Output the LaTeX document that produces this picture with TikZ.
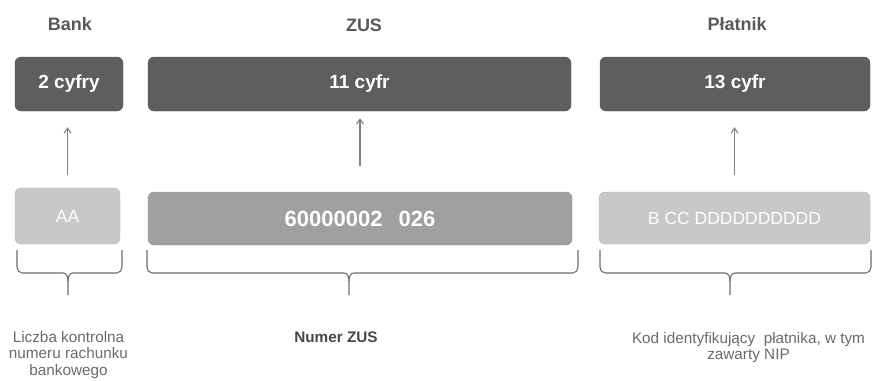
\documentclass[tikz,border=0pt]{standalone}
\usepackage{fontspec}
\setmainfont{Liberation Sans}
\usetikzlibrary{arrows.meta, positioning, calc}

\definecolor{ciemny}{RGB}{94,94,94}
\definecolor{sredni}{RGB}{160,160,160}
\definecolor{jasny}{RGB}{200,200,200}
\definecolor{szary}{RGB}{89,89,89}

% klamra: lewy x, prawy x, srodek x
\newcommand{\klamra}[3]{%
  \draw[klamra] (#1,250) -- (#1,267) to[out=-90,in=180] (#1+5,273) -- (#3-5,273)
    to[out=0,in=90] (#3,281) -- (#3,295);
  \draw[klamra] (#2,250) -- (#2,267) to[out=-90,in=0] (#2-5,273) -- (#3+5,273)
    to[out=180,in=90] (#3,281);
}

\begin{document}
\begin{tikzpicture}[x=1pt, y=-1pt,
    pole/.style={rounded corners=6pt, inner sep=0pt, text=white},
    ciemnybox/.style={pole, fill=ciemny, draw=ciemny!90!black, font=\fontsize{19}{22}\selectfont\bfseries},
    srednibox/.style={pole, fill=sredni, draw=sredni!90!black, font=\fontsize{22}{26}\selectfont\bfseries},
    jasnybox/.style={pole, fill=jasny, draw=jasny!92!black, font=\fontsize{17.5}{20}\selectfont},
    naglowek/.style={text=szary, font=\fontsize{18}{20}\selectfont\bfseries},
    opis/.style={text=szary!90, anchor=north, inner sep=0pt, align=center, font=\fontsize{15.3}{16.5}\selectfont},
    strzalka/.style={draw=black!50, line width=1.1pt, -{Straight Barb[length=5pt,width=7pt]}},
    klamra/.style={draw=black!58, line width=1.1pt}]
    \useasboundingbox (0,0) rectangle (872,380);

    % naglowki
    \node[naglowek] (hbank) at (70,24) {Bank};
    \node[naglowek] (hzus) at (364,25) {ZUS};
    \node[naglowek] (hplatnik) at (737,24) {Płatnik};

    % gorny rzad
    \node[ciemnybox, minimum width=108, minimum height=54] (bank) at (69,84) {2 cyfry};
    \node[ciemnybox, minimum width=423, minimum height=54] (zus) at (359.5,84) {11 cyfr};
    \node[ciemnybox, minimum width=270, minimum height=54] (platnik) at (735,84) {13 cyfr};

    % dolny rzad
    \node[jasnybox, minimum width=105, minimum height=56] (aa) at (67.5,216) {AA};
    \node[srednibox, minimum width=424, minimum height=53] (numer) at (360,218.5) {60000002\hspace{16pt}026};
    \node[jasnybox, minimum width=271, minimum height=52] (kod) at (734.5,218) {B CC DDDDDDDDDD};

    % strzalki
    \draw[strzalka, shorten <=13pt, shorten >=16pt] (aa.north) -- (aa.north |- bank.south);
    \draw[strzalka, shorten <=26pt, shorten >=7pt] (numer.north) -- (numer.north |- zus.south);
    \draw[strzalka, shorten <=17pt, shorten >=16pt] (kod.north) -- (kod.north |- platnik.south);

    % klamry
    \klamra{17}{122}{68}
    \klamra{147}{578}{349}
    \klamra{600}{871}{730}

    % opisy
    \node[opis] (obank) at (68.5,331) {Liczba kontrolna\\numeru rachunku\\bankowego};
    \node[opis, text=black!72, font=\fontsize{15.3}{16.5}\selectfont\bfseries] (ozus) at (336,332) {Numer ZUS};
    \node[opis] (oplatnik) at (748.5,332) {Kod identyfikujący~ płatnika, w tym\\zawarty NIP};
\end{tikzpicture}
\end{document}
